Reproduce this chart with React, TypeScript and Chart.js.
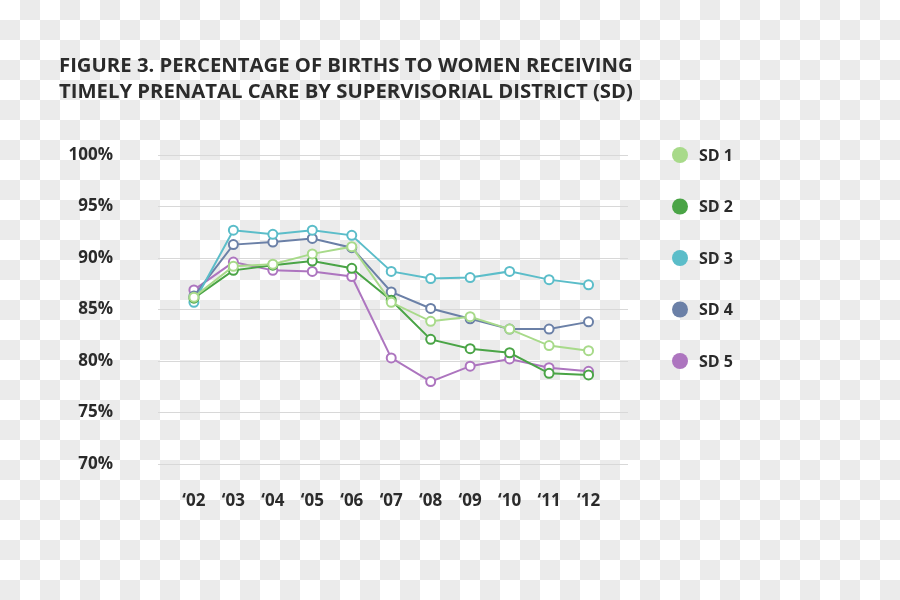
import React, { useEffect, useRef } from "react";
import { Chart, registerables } from "chart.js";

Chart.register(...registerables);

const categories = ["\u201802", "\u201803", "\u201804", "\u201805", "\u201806", "\u201807", "\u201808", "\u201809", "\u201810", "\u201811", "\u201812"];
const sd1 = [86.2, 89.2, 89.4, 90.4, 91.1, 85.7, 83.85, 84.3, 83.1, 81.5, 81.0];
const sd2 = [86.1, 88.8, 89.3, 89.7, 89.0, 85.9, 82.1, 81.2, 80.8, 78.8, 78.65];
const sd3 = [85.7, 92.7, 92.3, 92.7, 92.2, 88.7, 88.0, 88.1, 88.7, 87.9, 87.4];
const sd4 = [86.3, 91.3, 91.55, 91.9, 91.0, 86.7, 85.1, 84.1, 83.1, 83.1, 83.8];
const sd5 = [86.9, 89.6, 88.8, 88.7, 88.2, 80.3, 78.0, 79.5, 80.2, 79.35, 79.0];
const seriesNames = ["SD 1", "SD 2", "SD 3", "SD 4", "SD 5"];
const seriesColors = ["#a8da8a", "#4aa446", "#5bbdc9", "#6b80a7", "#ad75bf"];
const yTicks = [70, 75, 80, 85, 90, 95, 100];
const titleLines = [
  "FIGURE 3. PERCENTAGE OF BIRTHS TO WOMEN RECEIVING",
  "TIMELY PRENATAL CARE BY SUPERVISORIAL DISTRICT (SD)",
];

const FONT = "'Open Sans', sans-serif";
const TEXT = "#2b2b2b";

export default function App() {
  const ref = useRef<HTMLCanvasElement | null>(null);
  useEffect(() => {
    document.body.style.margin = "0";
    const all = [sd1, sd2, sd3, sd4, sd5];
    const overlay = {
      id: "overlay",
      afterDraw(chart: any) {
        const ctx = chart.ctx;
        const y = chart.scales.y;
        ctx.save();
        ctx.fillStyle = TEXT;
        ctx.font = `bold 20.3px ${FONT}`;
        ctx.textBaseline = "alphabetic";
        ctx.textAlign = "left";
        ctx.fillText(titleLines[0], 59, 72);
        ctx.fillText(titleLines[1], 59, 98);
        seriesNames.forEach((name, i) => {
          const py = y.getPixelForValue(100 - 5 * i);
          ctx.beginPath();
          ctx.fillStyle = seriesColors[i];
          ctx.arc(680, py, 8, 0, Math.PI * 2);
          ctx.fill();
          ctx.fillStyle = TEXT;
          ctx.font = `bold 16px ${FONT}`;
          ctx.textBaseline = "middle";
          ctx.fillText(name, 699, py + 1);
        });
        ctx.restore();
      },
    };
    const chart = new Chart(ref.current as HTMLCanvasElement, {
      type: "line",
      data: {
        datasets: all.map((vals, i) => ({
          label: seriesNames[i],
          data: vals.map((v, j) => ({ x: j, y: v })),
          borderColor: seriesColors[i],
          backgroundColor: "#ffffff",
          pointBackgroundColor: "#ffffff",
          pointBorderColor: seriesColors[i],
          pointBorderWidth: 2,
          pointRadius: 4.5,
          borderWidth: 2,
          tension: 0,
        })),
      },
      options: {
        animation: false,
        responsive: false,
        layout: { padding: { left: 60, right: 272, top: 155, bottom: 76 } },
        plugins: { legend: { display: false }, tooltip: { enabled: false }, title: { display: false } },
        scales: {
          x: {
            type: "linear",
            min: -0.91,
            max: 11.0,
            grid: { display: false },
            border: { display: false },
            afterBuildTicks: (s: any) => {
              s.ticks = categories.map((_, i) => ({ value: i }));
            },
            afterFit: (s: any) => {
              s.height = 60;
            },
            ticks: {
              padding: 19,
              color: TEXT,
              font: { family: FONT, size: 17, weight: "bold" },
              callback: (v: any) => categories[v as number] ?? "",
              maxRotation: 0,
              autoSkip: false,
            },
          },
          y: {
            min: 70,
            max: 100,
            afterBuildTicks: (s: any) => {
              s.ticks = yTicks.map((v) => ({ value: v }));
            },
            afterFit: (s: any) => {
              s.width = 98;
            },
            grid: { color: "#d8d8d8", lineWidth: 1, drawTicks: false },
            border: { display: false },
            ticks: {
              padding: 45,
              color: TEXT,
              font: { family: FONT, size: 17, weight: "bold" },
              callback: (v: any) => `${v}%`,
            },
          },
        },
      },
      plugins: [overlay],
    } as any);
    return () => chart.destroy();
  }, []);
  return (
    <div
      style={{
        position: "fixed",
        left: 0,
        top: 0,
        width: 900,
        height: 600,
        background: "conic-gradient(#ebebeb 25%, #ffffff 0 50%, #ebebeb 0 75%, #ffffff 0) 0 0 / 40px 40px",
      }}
    >
      <canvas ref={ref} width={900} height={600} style={{ display: "block" }} />
    </div>
  );
}
